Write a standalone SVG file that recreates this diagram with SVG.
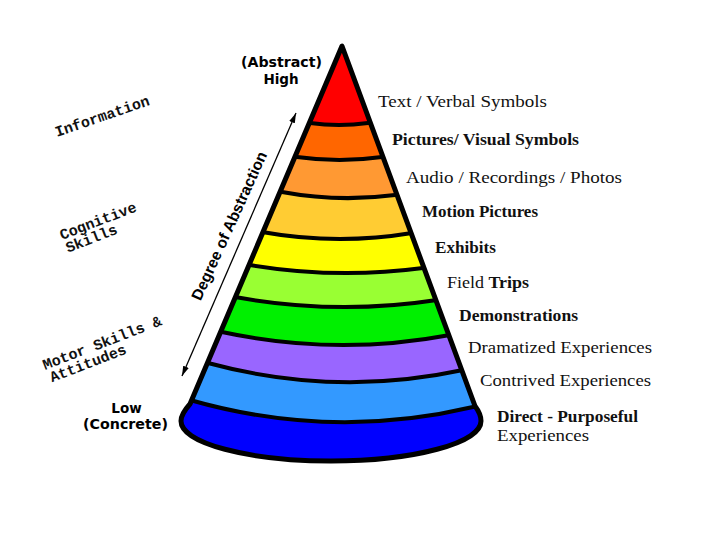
<svg xmlns="http://www.w3.org/2000/svg" width="720" height="540" viewBox="0 0 720 540">
<style>
.edge{fill:none;stroke:#000;stroke-width:4;stroke-linecap:round}
.outline{fill:none;stroke:#000;stroke-width:5;stroke-linejoin:round}
.lbl{font-family:"Liberation Serif","Times New Roman",serif;font-size:16px;fill:#111}
.b{font-weight:bold}
.mono{font-family:"Liberation Mono","Courier New",monospace;font-size:15px;font-weight:bold;fill:#111}
.end{font-family:"DejaVu Sans","Liberation Sans",sans-serif;font-weight:bold;font-size:13.5px;fill:#000;text-anchor:middle}
.axis{font-family:"Liberation Sans",Arial,sans-serif;font-weight:bold;font-size:15.5px;fill:#000;text-anchor:middle}
.conn{stroke:#000;stroke-width:1.3;fill:none}
</style>
<defs>
<clipPath id="cone"><path d="M342,46 L190,404 Q181,414 181,421 A150,40 0 0 0 481,421 Q481,414 475,406 Z"/></clipPath>
<marker id="ah" viewBox="0 0 10 6" refX="10" refY="3" markerWidth="10" markerHeight="6" orient="auto-start-reverse" markerUnits="userSpaceOnUse"><path d="M0,0 L10,3 L0,6 Z" fill="#000"/></marker>
</defs>
<rect width="720" height="540" fill="#fff"/>
<g clip-path="url(#cone)">
<g id="band-text"><path fill="#ff0000" d="M150,0 L540,0 L540,123 L368,123 Q339,127 310,123 L150,123 Z"/></g>
<g id="band-pictures"><path fill="#ff6600" d="M150,123 L310,123 Q339,127 368,123 L540,123 L540,157 L382,157 Q339.5,163 297,157 L150,157 Z"/></g>
<g id="band-audio"><path fill="#ff9933" d="M150,157 L297,157 Q339.5,163 382,157 L540,157 L540,195 L395,195 Q338.5,202.5 282,192 L150,192 Z"/></g>
<g id="band-motion"><path fill="#ffcc33" d="M150,192 L282,192 Q338.5,202.5 395,195 L540,195 L540,233 L412,233 Q337,245.5 262,232 L150,232 Z"/></g>
<g id="band-exhibits"><path fill="#ffff00" d="M150,232 L262,232 Q337,245.5 412,233 L540,233 L540,268 L423,268 Q336.5,279.5 250,265 L150,265 Z"/></g>
<g id="band-field"><path fill="#99ff33" d="M150,265 L250,265 Q336.5,279.5 423,268 L540,268 L540,300 L437,300 Q336,315.5 235,297 L150,297 Z"/></g>
<g id="band-demo"><path fill="#00f000" d="M150,297 L235,297 Q336,315.5 437,300 L540,300 L540,335 L450,335 Q336,356.5 222,332 L150,332 Z"/></g>
<g id="band-dramatized"><path fill="#9966ff" d="M150,332 L222,332 Q336,356.5 450,335 L540,335 L540,370 L463,370 Q335.5,397.5 208,363 L150,363 Z"/></g>
<g id="band-contrived"><path fill="#3399ff" d="M150,363 L208,363 Q335.5,397.5 463,370 L540,370 L540,407 L473,407 Q331.5,440.5 190,400 L150,400 Z"/></g>
<g id="band-direct"><path fill="#0000ff" d="M150,400 L190,400 Q331.5,440.5 473,407 L540,407 L540,540 L150,540 Z"/></g>
<g id="band-lines">
<path class="edge" d="M150,123 L310,123 Q339,127 368,123 L540,123"/>
<path class="edge" d="M150,157 L297,157 Q339.5,163 382,157 L540,157"/>
<path class="edge" d="M150,192 L282,192 Q338.5,202.5 395,195 L540,195"/>
<path class="edge" d="M150,232 L262,232 Q337,245.5 412,233 L540,233"/>
<path class="edge" d="M150,265 L250,265 Q336.5,279.5 423,268 L540,268"/>
<path class="edge" d="M150,297 L235,297 Q336,315.5 437,300 L540,300"/>
<path class="edge" d="M150,332 L222,332 Q336,356.5 450,335 L540,335"/>
<path class="edge" d="M150,363 L208,363 Q335.5,397.5 463,370 L540,370"/>
<path class="edge" d="M150,400 L190,400 Q331.5,440.5 473,407 L540,407"/>
</g>
</g>
<g id="cone-outline"><path class="outline" d="M342,46 L190,404 Q181,414 181,421 A150,40 0 0 0 481,421 Q481,414 475,406 Z"/></g>

<g id="labels">
<text class="lbl" x="378" y="107" textLength="169" lengthAdjust="spacingAndGlyphs">Text / Verbal Symbols</text>
<text class="lbl b" x="392" y="145" textLength="187" lengthAdjust="spacingAndGlyphs">Pictures/ Visual Symbols</text>
<text class="lbl" x="406" y="183" textLength="216" lengthAdjust="spacingAndGlyphs">Audio / Recordings / Photos</text>
<text class="lbl b" x="422" y="217" textLength="116" lengthAdjust="spacingAndGlyphs">Motion Pictures</text>
<text class="lbl b" x="435" y="253" textLength="61" lengthAdjust="spacingAndGlyphs">Exhibits</text>
<text class="lbl" x="447" y="288" textLength="82" lengthAdjust="spacingAndGlyphs">Field <tspan class="b">Trips</tspan></text>
<text class="lbl b" x="459" y="321" textLength="119" lengthAdjust="spacingAndGlyphs">Demonstrations</text>
<text class="lbl" x="468" y="353" textLength="184" lengthAdjust="spacingAndGlyphs">Dramatized Experiences</text>
<text class="lbl" x="480" y="386" textLength="171" lengthAdjust="spacingAndGlyphs">Contrived Experiences</text>
<text class="lbl b" x="497" y="422" textLength="141" lengthAdjust="spacingAndGlyphs">Direct - Purposeful</text>
<text class="lbl" x="497" y="441" textLength="92" lengthAdjust="spacingAndGlyphs">Experiences</text>
</g>

<g id="node-high">
<text class="end" x="281.5" y="67" textLength="81" lengthAdjust="spacingAndGlyphs">(Abstract)</text>
<text class="end" x="281" y="84">High</text>
</g>
<g id="node-low">
<text class="end" x="126.5" y="413">Low</text>
<text class="end" x="125.5" y="429" textLength="85" lengthAdjust="spacingAndGlyphs">(Concrete)</text>
</g>

<g id="node-information"><text class="mono" transform="translate(57,137) rotate(-19)">Information</text></g>
<g id="node-cognitive" transform="translate(62,240) rotate(-21)">
<text class="mono" x="0" y="0">Cognitive</text>
<text class="mono" x="1" y="14">Skills</text>
</g>
<g id="node-motor" transform="translate(45,370) rotate(-21)">
<text class="mono" x="0" y="0">Motor Skills &amp;</text>
<text class="mono" x="2" y="14">Attitudes</text>
</g>

<g id="node-axis"><text class="axis" transform="translate(234,228) rotate(-65.5)">Degree of Abstraction</text></g>

<g id="connectors">
<line class="conn" x1="296" y1="113" x2="182" y2="376" marker-start="url(#ah)" marker-end="url(#ah)"/>
</g>
</svg>
